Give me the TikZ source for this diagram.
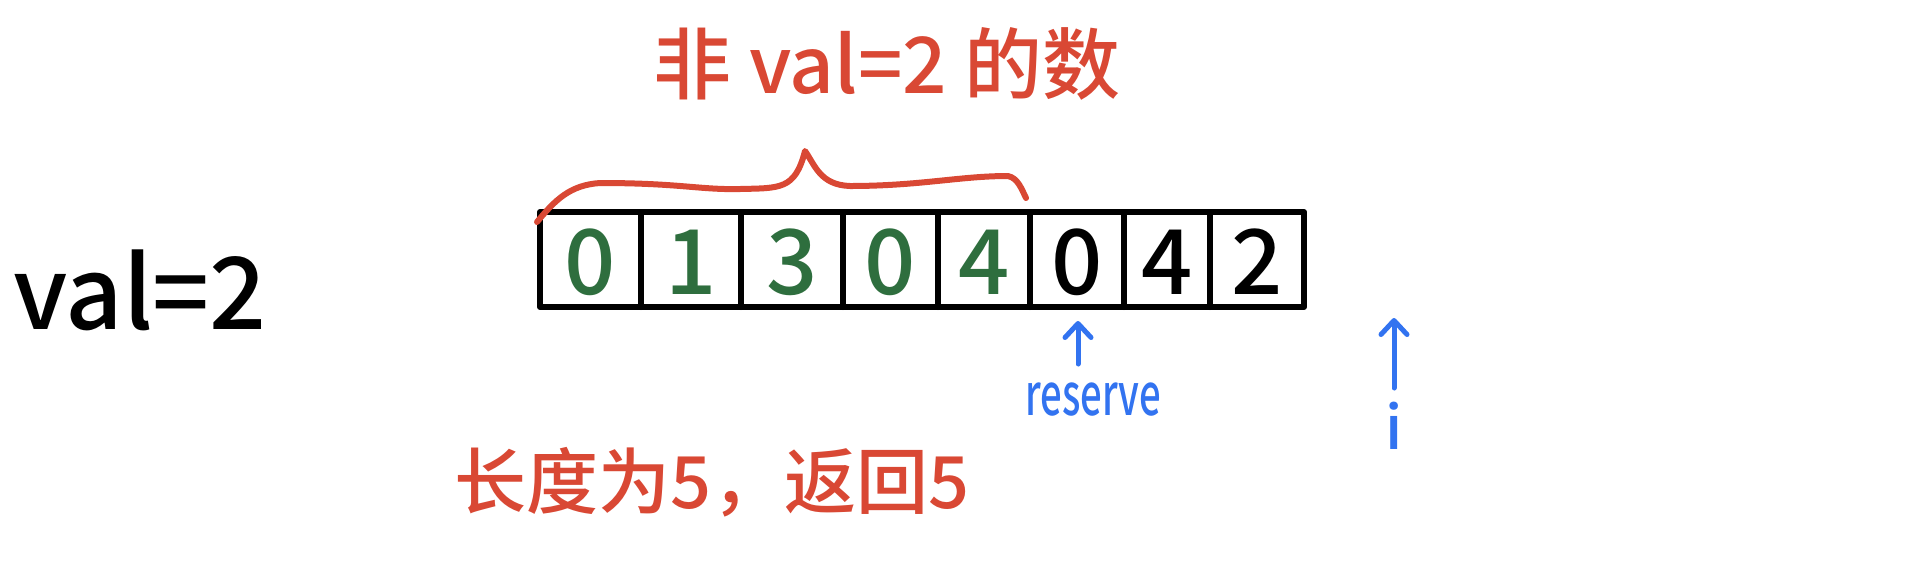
\documentclass[tikz,border=0pt]{standalone}
\usepackage{fontspec}
\setmainfont{Noto Sans CJK SC}[BoldFont={Noto Sans CJK SC Medium}]
\usetikzlibrary{arrows.meta}
\definecolor{hred}{RGB}{217,72,52}
\definecolor{hblue}{RGB}{50,115,240}
\definecolor{hgreen}{RGB}{46,110,62}
\tikzset{
  frame/.style={line width=6pt, line join=round, line cap=round},
  digit/.style={font=\fontsize{90}{90}\selectfont\bfseries, inner sep=0pt, anchor=center},
  keep/.style={digit, text=hgreen},
  rest/.style={digit, text=black},
  redtext/.style={text=hred, inner sep=0pt},
  bluetext/.style={text=hblue, inner sep=0pt},
  ptr/.style={draw=hblue, line width=5pt, line cap=round, -{Straight Barb[length=14pt, width=26pt, line width=5pt, round]}},
  brace/.style={draw=hred, line width=6pt, line cap=round, line join=round}
}
\begin{document}
\begin{tikzpicture}[x=1pt,y=-1pt]
\useasboundingbox (0,0) rectangle (1926,574);
% array frame
\draw[frame] (540,212) rectangle (1304,307);
\foreach \xx in {641,741,843,938,1030,1124,1210}
  \draw[frame] (\xx,212) -- (\xx,307);
% digits
\node[keep] (d0) at (590,262) {0};
\node[keep] (d1) at (691,262) {1};
\node[keep] (d2) at (792,262) {3};
\node[keep] (d3) at (890,262) {0};
\node[keep] (d4) at (984,262) {4};
\node[rest] (d5) at (1077,262) {0};
\node[rest] (d6) at (1167,262) {4};
\node[rest] (d7) at (1257,262) {2};
% brace
\coordinate (bl) at (537,222);
\coordinate (bm) at (805,151);
\coordinate (br) at (1026,198);
\draw[brace] (bl) .. controls (555,200) and (570,185) .. (600,183)
  .. controls (680,183) and (700,190) .. (740,189)
  .. controls (780,188) and (795,190) .. (bm)
  .. controls (815,165) and (820,185) .. (850,186)
  .. controls (920,186) and (960,176) .. (1008,176)
  .. controls (1018,178) and (1022,190) .. (br);
% labels
\node[redtext, font=\fontsize{78}{78}\selectfont\bfseries] (top) at (887,64) {非 val=2 的数};
\node[inner sep=0pt, font=\fontsize{100}{100}\selectfont\bfseries] (val) at (140,290) {val=2};
\node[redtext, font=\fontsize{72}{72}\selectfont\bfseries] (bottom) at (712,482) {长度为5，返回5};
\node[bluetext, font=\fontsize{58}{58}\selectfont\bfseries] (reserve) at (1093,400) {\scalebox{0.66}[1]{reserve}};
\node[bluetext, font=\fontsize{60}{60}\selectfont\bfseries] (i) at (1394,426) {i};
\coordinate (rtop) at (1078,321);
\coordinate (itop) at (1394,318);
\coordinate (rbot) at (1078,364);
\coordinate (ibot) at (1394,388);
\draw[ptr] (rbot) -- (rtop);
\draw[ptr] (ibot) -- (itop);
\end{tikzpicture}
\end{document}
